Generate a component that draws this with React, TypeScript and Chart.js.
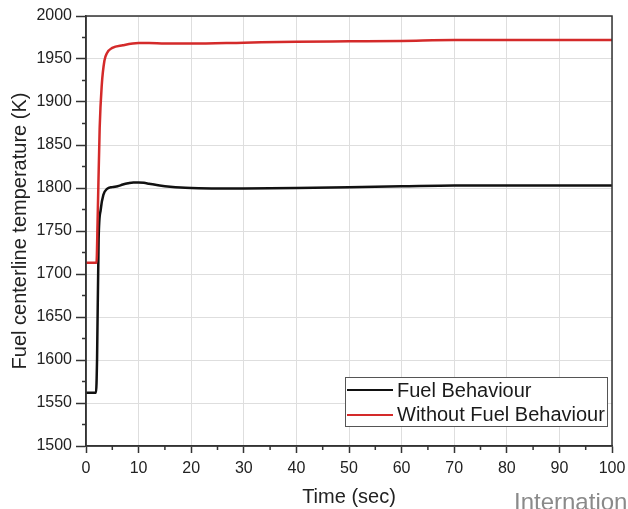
import React, { useEffect, useRef } from "react";
import { Chart, registerables } from "chart.js";

Chart.register(...registerables);

const timeFuel = [0, 1.9, 2.1, 2.4, 2.8, 3.3, 4, 5, 6, 7, 8, 9, 10, 11, 12, 14, 16, 18, 20, 25, 30, 40, 50, 60, 70, 80, 90, 100];
const tempFuel = [1562, 1562, 1600, 1740, 1775, 1792, 1799, 1801, 1802, 1804, 1805.5, 1806.5, 1806.5, 1806, 1805, 1803, 1801.5, 1800.5, 1800, 1799.5, 1799.5, 1800, 1801, 1802, 1803, 1803, 1803, 1803];

const timeNoFuel = [0, 2.0, 2.2, 2.6, 3.0, 3.5, 4, 5, 7, 10, 12, 15, 20, 30, 40, 50, 60, 70, 80, 90, 100];
const tempNoFuel = [1713, 1713, 1760, 1870, 1920, 1948, 1957, 1963, 1966, 1968.5, 1968.5, 1968, 1968, 1969, 1970, 1970.5, 1971, 1972, 1972, 1972, 1972];

const seriesNames = ["Fuel Behaviour", "Without Fuel Behaviour"];
const seriesColors = ["#111111", "#d42a2a"];

const xTitle = "Time (sec)";
const yTitle = "Fuel centerline temperature (K)";
const FONT = "Arial, 'Liberation Sans', sans-serif";

const frameAndLegend = {
  id: "frameAndLegend",
  afterDraw(chart: any) {
    const ctx = chart.ctx;
    const a = chart.chartArea;
    const xs = chart.scales.x;
    const ys = chart.scales.y;
    ctx.save();
    // minor ticks
    ctx.strokeStyle = "#333";
    ctx.lineWidth = 1.5;
    ctx.beginPath();
    for (let v = 5; v < 100; v += 10) {
      const px = xs.getPixelForValue(v);
      ctx.moveTo(px, a.bottom);
      ctx.lineTo(px, a.bottom + 4);
    }
    for (let v = 1525; v < 2000; v += 50) {
      const py = ys.getPixelForValue(v);
      ctx.moveTo(a.left, py);
      ctx.lineTo(a.left - 4, py);
    }
    ctx.stroke();
    // frame
    ctx.strokeStyle = "#333";
    ctx.lineWidth = 1.5;
    ctx.strokeRect(a.left, a.top, a.right - a.left, a.bottom - a.top);
    // legend
    const bx = 345, by = 377, bw = 262, bh = 49;
    ctx.fillStyle = "#ffffff";
    ctx.fillRect(bx, by, bw, bh);
    ctx.strokeStyle = "#555";
    ctx.lineWidth = 1;
    ctx.strokeRect(bx + 0.5, by + 0.5, bw, bh);
    ctx.font = "20px " + FONT;
    ctx.textBaseline = "alphabetic";
    ctx.textAlign = "left";
    const lineY = [390, 415];
    const baseY = [397, 421];
    for (let i = 0; i < 2; i++) {
      ctx.strokeStyle = seriesColors[i];
      ctx.lineWidth = 2;
      ctx.beginPath();
      ctx.moveTo(bx + 2, lineY[i]);
      ctx.lineTo(bx + 48, lineY[i]);
      ctx.stroke();
      ctx.fillStyle = "#1a1a1a";
      ctx.fillText(seriesNames[i], bx + 52, baseY[i]);
    }
    ctx.restore();
  },
};

export default function App() {
  const ref = useRef<HTMLCanvasElement | null>(null);
  useEffect(() => {
    document.body.style.margin = "0";
    const toPts = (xs: number[], ys: number[]) => xs.map((x, i) => ({ x, y: ys[i] }));
    const chart = new Chart(ref.current as HTMLCanvasElement, {
      type: "line",
      data: {
        datasets: [
          {
            label: seriesNames[1],
            data: toPts(timeNoFuel, tempNoFuel),
            borderColor: seriesColors[1],
            borderWidth: 2.5,
            pointRadius: 0,
            cubicInterpolationMode: "monotone",
          },
          {
            label: seriesNames[0],
            data: toPts(timeFuel, tempFuel),
            borderColor: seriesColors[0],
            borderWidth: 2.5,
            pointRadius: 0,
            cubicInterpolationMode: "monotone",
          },
        ],
      },
      options: {
        animation: false,
        responsive: false,
        events: [],
        layout: { padding: { left: 0, right: 16, top: 16, bottom: 0 } },
        plugins: { legend: { display: false }, tooltip: { enabled: false } },
        scales: {
          x: {
            type: "linear",
            min: 0,
            max: 100,
            afterFit(s: any) {
              s.height = 63;
              s.paddingLeft = 0;
              s.paddingRight = 0;
            },
            ticks: {
              stepSize: 10,
              color: "#222",
              font: { size: 16, family: FONT },
              padding: 6,
              maxRotation: 0,
              callback: (v: any) => String(v),
            },
            grid: { color: "#dedede", lineWidth: 1, tickLength: 7, tickColor: "#333", tickWidth: 1.5 },
            border: { display: true, color: "#333", width: 1.5 },
            title: {
              display: true,
              text: xTitle,
              color: "#222",
              font: { size: 20, family: FONT },
              padding: { top: 0, bottom: 0 },
            },
          },
          y: {
            type: "linear",
            min: 1500,
            max: 2000,
            afterFit(s: any) {
              s.width = 86;
              s.paddingTop = 0;
              s.paddingBottom = 0;
            },
            ticks: {
              stepSize: 50,
              color: "#222",
              font: { size: 16, family: FONT },
              padding: 4,
              callback: (v: any) => String(v),
            },
            grid: { color: "#dedede", lineWidth: 1, tickLength: 10, tickColor: "#333", tickWidth: 1.5 },
            border: { display: true, color: "#333", width: 1.5 },
            title: {
              display: true,
              text: yTitle,
              color: "#222",
              font: { size: 20, family: FONT },
              padding: { top: 8, bottom: 0 },
            },
          },
        },
      },
      plugins: [frameAndLegend],
    } as any);
    return () => chart.destroy();
  }, []);
  return (
    <div style={{ position: "relative", width: 628, height: 509, overflow: "hidden", background: "#fff" }}>
      <canvas ref={ref} width={628} height={509} style={{ display: "block" }} />
      <div
        style={{
          position: "absolute",
          left: 514,
          top: 490,
          fontFamily: FONT,
          fontSize: 24,
          lineHeight: "24px",
          color: "#8a8a8a",
          whiteSpace: "nowrap",
        }}
      >
        Internation
      </div>
    </div>
  );
}
